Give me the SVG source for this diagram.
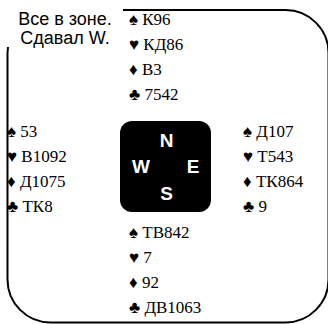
<svg xmlns="http://www.w3.org/2000/svg" width="328" height="324" viewBox="0 0 328 324">
<style>
.h{font-family:'Liberation Serif','Times New Roman',serif;font-size:17px;fill:#000}
.cmp{font-family:'Liberation Sans',Arial,sans-serif;font-size:19px;font-weight:bold;fill:#fff;text-anchor:middle}
.info{font-family:'Liberation Sans',Arial,sans-serif;font-size:18px;fill:#000;text-anchor:middle}
</style>
<rect width="328" height="324" fill="#fff"/>
<g id="border">
<rect x="7.5" y="10" width="321" height="312.5" rx="43" ry="43" fill="none" stroke="#000" stroke-width="2"/>
</g>
<g id="info">
<rect x="0" y="0" width="123" height="47" fill="#fff"/>
<text class="info" x="65" y="25">Все в зоне.</text>
<text class="info" x="65" y="44">Сдавал W.</text>
</g>
<g id="compass">
<rect x="120" y="121" width="91" height="91" rx="12" ry="12" fill="#000"/>
<text class="cmp" x="166.5" y="147">N</text>
<text class="cmp" x="141" y="173">W</text>
<text class="cmp" x="193" y="173">E</text>
<text class="cmp" x="166.5" y="200">S</text>
</g>
<g id="north">
<text class="h" x="129" y="25">♠ К96</text>
<text class="h" x="129" y="50">♥ КД86</text>
<text class="h" x="129" y="75">♦ В3</text>
<text class="h" x="129" y="100">♣ 7542</text>
</g>
<g id="west">
<text class="h" x="7" y="137">♠ 53</text>
<text class="h" x="7" y="162">♥ В1092</text>
<text class="h" x="7" y="187">♦ Д1075</text>
<text class="h" x="7" y="212">♣ ТК8</text>
</g>
<g id="east">
<text class="h" x="243" y="137">♠ Д107</text>
<text class="h" x="243" y="162">♥ Т543</text>
<text class="h" x="243" y="187">♦ ТК864</text>
<text class="h" x="243" y="212">♣ 9</text>
</g>
<g id="south">
<text class="h" x="129" y="238">♠ ТВ842</text>
<text class="h" x="129" y="263">♥ 7</text>
<text class="h" x="129" y="288">♦ 92</text>
<text class="h" x="129" y="313">♣ ДВ1063</text>
</g>
<g id="connectors"></g>
</svg>
